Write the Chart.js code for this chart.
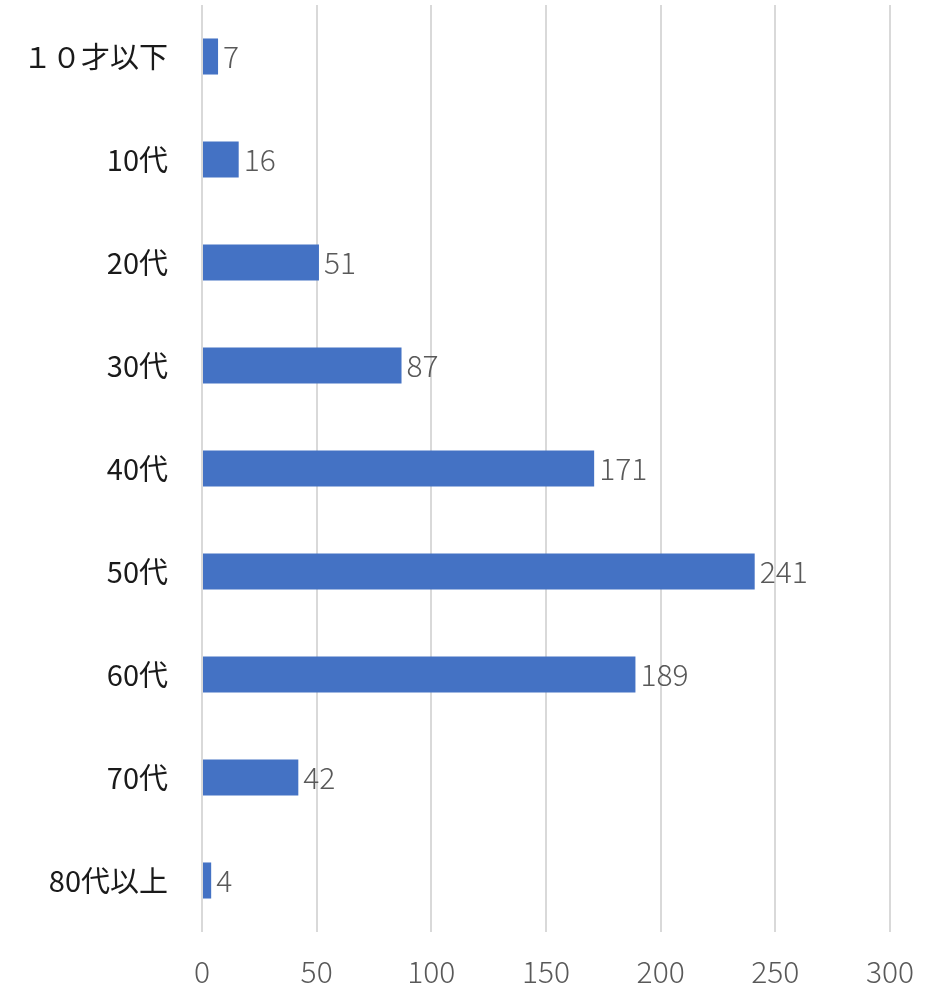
<!DOCTYPE html>
<html>
<head>
<meta charset="utf-8">
<script src="https://cdn.jsdelivr.net/npm/chart.js@4"></script>
<style>
  html, body { margin: 0; padding: 0; background: #fff; }
  #wrap { width: 935px; height: 990px; }
</style>
</head>
<body>
<div id="wrap"><canvas id="ageChart" width="935" height="990"></canvas></div>
<script>
const ageGroups = ["１０才以下", "10代", "20代", "30代", "40代", "50代", "60代", "70代", "80代以上"];
const counts = [7, 16, 51, 87, 171, 241, 189, 42, 4];
const xTicks = [0, 50, 100, 150, 200, 250, 300];

const fontFamily = "'Noto Sans CJK JP', 'Noto Sans', sans-serif";

// draws the numbers next to each bar end
const valueLabels = {
  id: "valueLabels",
  afterDatasetsDraw(chart) {
    const ctx = chart.ctx;
    const meta = chart.getDatasetMeta(0);
    ctx.save();
    ctx.font = "300 30px " + fontFamily;
    ctx.fillStyle = "#595959";
    ctx.textAlign = "left";
    ctx.textBaseline = "middle";
    meta.data.forEach((bar, i) => {
      ctx.fillText(String(counts[i]), bar.x + 5, bar.y);
    });
    ctx.restore();
  }
};

new Chart(document.getElementById("ageChart"), {
  type: "bar",
  data: {
    labels: ageGroups,
    datasets: [{
      data: counts,
      backgroundColor: "#4472C4",
      borderWidth: 0,
      barPercentage: 0.7,
      categoryPercentage: 0.5
    }]
  },
  options: {
    indexAxis: "y",
    responsive: false,
    animation: false,
    layout: { padding: { top: 5, right: 45, left: 0, bottom: 0 } },
    plugins: {
      legend: { display: false },
      tooltip: { enabled: false }
    },
    scales: {
      x: {
        min: 0,
        max: 300,
        afterBuildTicks(axis) {
          axis.ticks = xTicks.map(v => ({ value: v }));
        },
        afterFit(axis) {
          axis.height = 58;
          axis.paddingLeft = 0;
          axis.paddingRight = 0;
        },
        grid: { color: "#d9d9d9", lineWidth: 2, drawTicks: false },
        border: { display: false },
        ticks: {
          color: "#595959",
          padding: 22,
          font: { family: fontFamily, size: 30, weight: 300 }
        }
      },
      y: {
        afterFit(axis) {
          axis.width = 202;
          axis.paddingTop = 0;
          axis.paddingBottom = 0;
        },
        grid: { display: false, drawTicks: false },
        border: { display: false },
        ticks: {
          color: "#1a1a1a",
          padding: 34,
          font: { family: fontFamily, size: 29 }
        }
      }
    }
  },
  plugins: [valueLabels]
});
</script>
</body>
</html>
